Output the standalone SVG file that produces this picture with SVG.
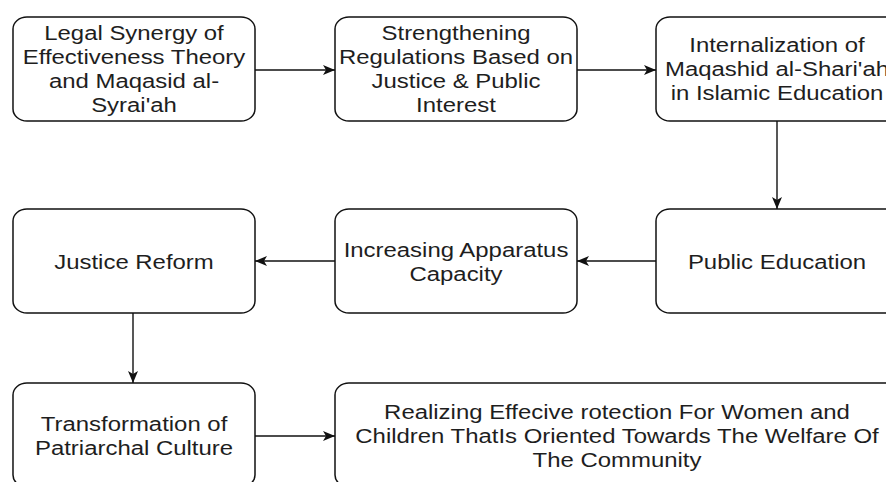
<svg xmlns="http://www.w3.org/2000/svg" width="886" height="482" viewBox="0 0 886 482">
<style>
.box{fill:#fff;stroke:#111;stroke-width:1.5}
.lbl{font-family:"Liberation Sans",Arial,sans-serif;font-size:21px;fill:#1e1e1e;text-anchor:middle}
.edge{fill:none;stroke:#111;stroke-width:1.4}
</style>
<defs>
<marker id="arr" viewBox="0 0 12 10" refX="12" refY="5" markerWidth="12" markerHeight="10" markerUnits="userSpaceOnUse" orient="auto">
<path d="M12,5 L0,0 L3,5 L0,10 Z" fill="#111"/>
</marker>
</defs>
<rect width="886" height="482" fill="#fff"/>
<g id="connectors">
<path class="edge" d="M255,70 L335,70" marker-end="url(#arr)"/>
<path class="edge" d="M577,70 L656,70" marker-end="url(#arr)"/>
<path class="edge" d="M777,121 L777,209" marker-end="url(#arr)"/>
<path class="edge" d="M656,261 L577,261" marker-end="url(#arr)"/>
<path class="edge" d="M335,261 L255,261" marker-end="url(#arr)"/>
<path class="edge" d="M133,313 L133,383" marker-end="url(#arr)"/>
<path class="edge" d="M255,436 L335,436" marker-end="url(#arr)"/>
</g>
<g id="n1">
<rect class="box" x="13" y="17" width="242" height="104" rx="14" ry="12"/>
<text class="lbl" transform="translate(134,0) scale(1.14,1)"><tspan x="0" y="40">Legal Synergy of</tspan><tspan x="0" y="64">Effectiveness Theory</tspan><tspan x="0" y="88">and Maqasid al-</tspan><tspan x="0" y="112">Syrai'ah</tspan></text>
</g>
<g id="n2">
<rect class="box" x="335" y="17" width="242" height="104" rx="14" ry="12"/>
<text class="lbl" transform="translate(456,0) scale(1.14,1)"><tspan x="0" y="40">Strengthening</tspan><tspan x="0" y="64">Regulations Based on</tspan><tspan x="0" y="88">Justice &amp; Public</tspan><tspan x="0" y="112">Interest</tspan></text>
</g>
<g id="n3">
<rect class="box" x="656" y="17" width="242" height="104" rx="14" ry="12"/>
<text class="lbl" transform="translate(777,0) scale(1.14,1)"><tspan x="0" y="52">Internalization of</tspan><tspan x="0" y="76">Maqashid al-Shari'ah</tspan><tspan x="0" y="100">in Islamic Education</tspan></text>
</g>
<g id="n4">
<rect class="box" x="13" y="209" width="242" height="104" rx="14" ry="12"/>
<text class="lbl" transform="translate(134,0) scale(1.14,1)"><tspan x="0" y="269">Justice Reform</tspan></text>
</g>
<g id="n5">
<rect class="box" x="335" y="209" width="242" height="104" rx="14" ry="12"/>
<text class="lbl" transform="translate(456,0) scale(1.14,1)"><tspan x="0" y="257">Increasing Apparatus</tspan><tspan x="0" y="281">Capacity</tspan></text>
</g>
<g id="n6">
<rect class="box" x="656" y="209" width="242" height="104" rx="14" ry="12"/>
<text class="lbl" transform="translate(777,0) scale(1.14,1)"><tspan x="0" y="269">Public Education</tspan></text>
</g>
<g id="n7">
<rect class="box" x="13" y="383" width="242" height="104" rx="14" ry="12"/>
<text class="lbl" transform="translate(134,0) scale(1.14,1)"><tspan x="0" y="431">Transformation of</tspan><tspan x="0" y="455">Patriarchal Culture</tspan></text>
</g>
<g id="n8">
<rect class="box" x="335" y="383" width="564" height="104" rx="14" ry="12"/>
<text class="lbl" transform="translate(617,0) scale(1.14,1)"><tspan x="0" y="419">Realizing Effecive rotection For Women and</tspan><tspan x="0" y="443">Children ThatIs Oriented Towards The Welfare Of</tspan><tspan x="0" y="467">The Community</tspan></text>
</g>
</svg>
